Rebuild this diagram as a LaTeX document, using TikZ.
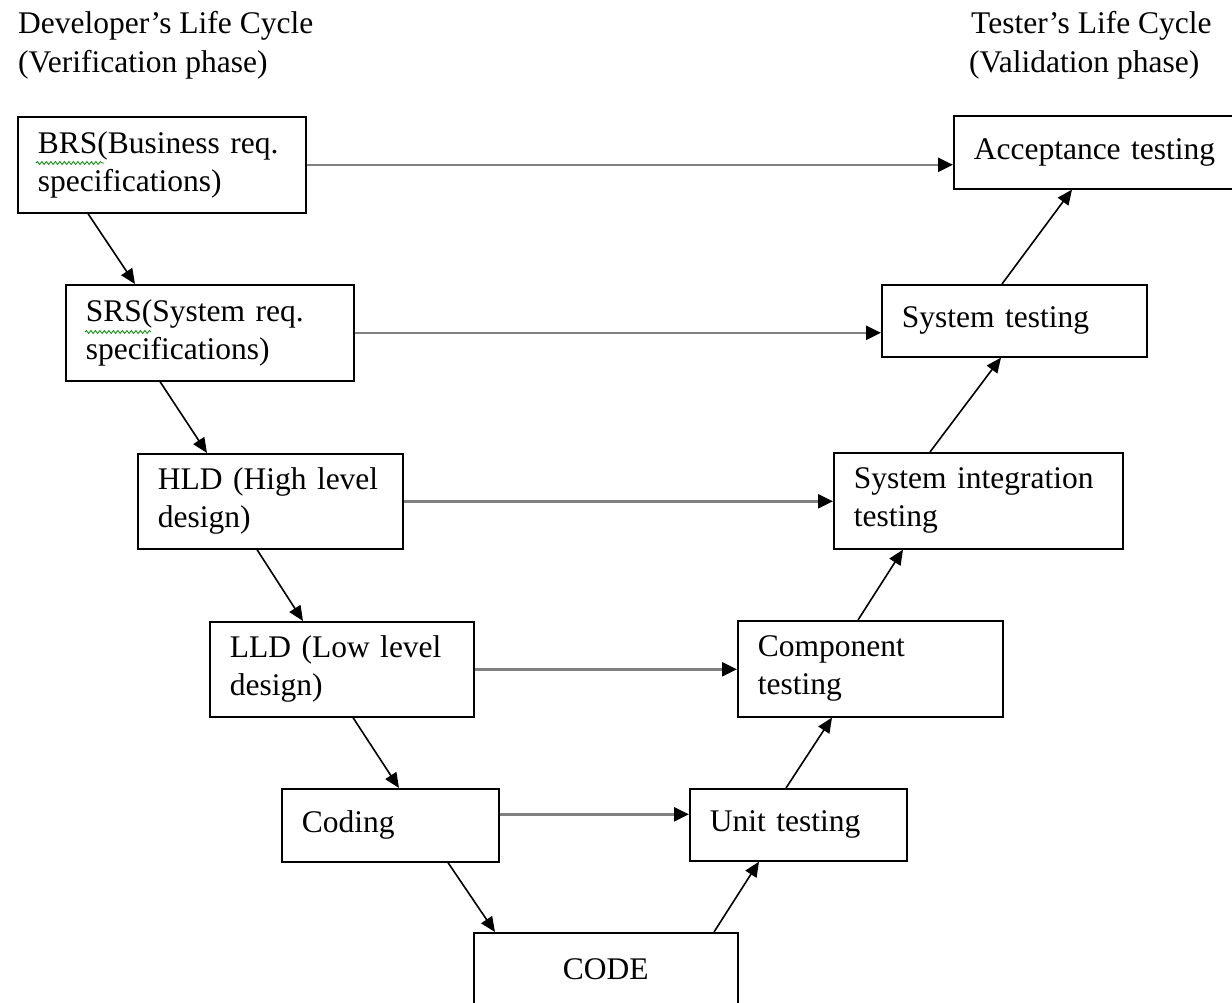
\documentclass[tikz,border=0pt]{standalone}
\usepackage{fontspec}
\setmainfont{Liberation Serif}
\usetikzlibrary{arrows.meta,decorations.pathmorphing}
\begin{document}
\begin{tikzpicture}[x=1pt,y=-1pt,
  txt/.style={font=\fontsize{31.5}{38}\selectfont},
  stage/.style={txt, draw=black, line width=1.6pt, fill=white, anchor=north west,
    inner xsep=20pt, inner ysep=0pt, align=left},
  flow/.style={draw=black, line width=1.6pt, -{Triangle[length=15pt,width=13pt]}},
  link/.style={draw=black!50, line width=2.4pt, -{Triangle[length=15pt,width=14pt,color=black]}},
  heading/.style={txt, anchor=base west, inner sep=0pt},
  squiggle/.style={draw=green!55!black, line width=0.8pt, decorate,
    decoration={snake, amplitude=1.5pt, segment length=4.5pt}}
]
\path[use as bounding box] (0,0) rectangle (1232,1002);
\clip (0,0) rectangle (1232,1002);
\fill[white] (0,0) rectangle (1232,1002);

% column headings
\node[heading] (devA) at (18,33) {Developer’s Life Cycle};
\node[heading] (devB) at (18,72) {(Verification phase)};
\node[heading] (tstA) at (971,33) {Tester’s Life Cycle};
\node[heading] (tstB) at (969,72) {(Validation phase)};

% verification side
\node[stage, text width=248pt, minimum height=96pt] (brs) at (17,116) {BRS(Business req.\\specifications)};
\node[stage, text width=248pt, minimum height=96pt] (srs) at (65,284) {SRS(System req.\\specifications)};
\node[stage, text width=225pt, minimum height=95pt] (hld) at (137,453) {HLD (High level\\design)};
\node[stage, text width=224pt, minimum height=95pt] (lld) at (209,621) {LLD (Low level\\design)};
\node[stage, text width=177pt, minimum height=73pt] (coding) at (281,788) {Coding};

% bottom of the V
\node[stage, text width=224pt, minimum height=80pt, align=center] (code) at (473,932) {\raisebox{8pt}{CODE}};

% validation side
\node[stage, text width=177pt, minimum height=72pt] (unit) at (689,788) {Unit testing};
\node[stage, text width=225pt, minimum height=96pt] (comp) at (737,620) {Component\\testing};
\node[stage, text width=249pt, minimum height=96pt] (sysint) at (833,452) {System integration\\testing};
\node[stage, text width=225pt, minimum height=72pt] (systest) at (881,284) {System testing};
\node[stage, text width=247pt, minimum height=73pt] (acc) at (953,115) {Acceptance testing};

% spell-check underlines
\draw[squiggle] ([xshift=19pt,yshift=-47pt]brs.north west) -- ++(68,0);
\draw[squiggle] ([xshift=20pt,yshift=-48pt]srs.north west) -- ++(66,0);

% down the left leg
\draw[flow] ([xshift=71pt]brs.south west) -- ([xshift=70pt]srs.north west);
\draw[flow] ([xshift=95pt]srs.south west) -- ([xshift=70pt]hld.north west);
\draw[flow] ([xshift=120pt]hld.south west) -- ([xshift=94pt]lld.north west);
\draw[flow] ([xshift=144pt]lld.south west) -- ([xshift=118pt]coding.north west);
\draw[flow] ([xshift=167pt]coding.south west) -- ([xshift=22pt]code.north west);

% up the right leg
\draw[flow] ([xshift=241pt]code.north west) -- ([xshift=70pt]unit.south west);
\draw[flow] ([xshift=97pt]unit.north west) -- ([xshift=95pt]comp.south west);
\draw[flow] ([xshift=121pt]comp.north west) -- ([xshift=70pt]sysint.south west);
\draw[flow] ([xshift=97pt]sysint.north west) -- ([xshift=120pt]systest.south west);
\draw[flow] ([xshift=121pt]systest.north west) -- ([xshift=119pt]acc.south west);

% level-to-level correspondences
\draw[link] (brs.east) -- (brs.east -| acc.west);
\draw[link] (srs.east) -- (srs.east -| systest.west);
\draw[link] (hld.east) -- (hld.east -| sysint.west);
\draw[link] (lld.east) -- (lld.east -| comp.west);
\coordinate (codingout) at ([yshift=11pt]coding.east);
\draw[link] (codingout) -- (codingout -| unit.west);
\end{tikzpicture}
\end{document}
